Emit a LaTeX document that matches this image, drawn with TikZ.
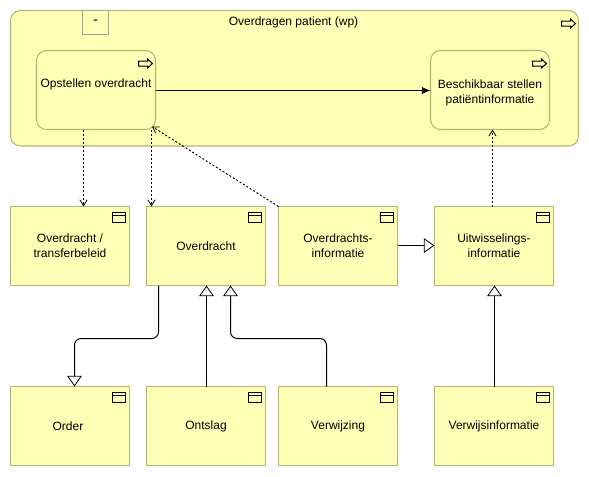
\documentclass[tikz,border=0pt]{standalone}
\usepackage{fontspec}
\setmainfont{Liberation Sans}
\usetikzlibrary{arrows.meta}
\definecolor{elfill}{HTML}{FFFFB5}
\definecolor{elline}{HTML}{B5B573}
\definecolor{tabline}{HTML}{A4A4A4}
\newcommand{\dn}{\rule{0pt}{10.5pt}}
\tikzset{
  x=0.75pt,y=-0.75pt,
  lbl/.style={font=\fontsize{9}{11.25}\selectfont,align=center,text=black,inner sep=0pt},
  element/.style={lbl,draw=elline,fill=elfill,line width=0.8pt,outer sep=0pt,minimum width=89.25pt,minimum height=59.25pt},
  objbox/.style={element},
  procbox/.style={element,rounded corners=7.5pt},
  group/.style={element,rounded corners=7.5pt,minimum width=426pt,minimum height=101.6pt},
  tabbox/.style={lbl,draw=tabline,fill=elfill,line width=0.75pt,outer sep=0pt,minimum width=19.5pt,minimum height=18pt},
  conn/.style={line width=0.75pt,black},
  flowline/.style={conn,-{Latex[length=6.5pt,width=5.5pt]}},
  depline/.style={conn,line width=0.7pt,dash pattern=on 1.5pt off 1.5pt,-{Straight Barb[length=4.5pt,width=5.5pt,line width=0.6pt]}},
  specline/.style={conn,rounded corners=5pt,-{Triangle[length=8pt,width=11pt,fill=white,line width=0.6pt]}},
  iconline/.style={black,line width=0.75pt,fill=none},
  objicon/.pic={\draw[iconline] (-17,6) rectangle (-4,16) (-17,9) -- (-4,9);},
  procicon/.pic={\draw[iconline] (-17,10.5) -- (-8,10.5) -- (-8,8.5) -- (-3,13) -- (-8,17.5) -- (-8,15.5) -- (-17,15.5) -- cycle;}
}
\begin{document}
\begin{tikzpicture}
\useasboundingbox (0,0) rectangle (589,476);
% groups and processes
\node[group] (wp) at (294.5,78.25) {};
\node[lbl] (wpt) at (293.5,22) {Overdragen patient (wp)};
\node[tabbox] (tab) at (95.5,22.5) {\fontsize{11}{12}\selectfont -};
\node[procbox] (p1) at (96,90) {\dn Opstellen overdracht\\ \strut};
\node[procbox] (p2) at (490,90) {\dn Beschikbaar stellen\\ patiëntinformatie};
% business objects
\node[objbox] (b1) at (70,246) {Overdracht /\\ transferbeleid};
\node[objbox] (b2) at (206,246) {Overdracht};
\node[objbox] (b3) at (338,246) {Overdrachts-\\ informatie};
\node[objbox] (b4) at (494,246) {Uitwisselings-\\ informatie};
\node[objbox] (c1) at (70,426) {Order\hspace{3pt}};
\node[objbox] (c2) at (206,426) {Ontslag};
\node[objbox] (c3) at (338,426) {Verwijzing};
\node[objbox] (c4) at (494,426) {Verwijsinformatie};
% icons
\pic at (wp.north east) {procicon};
\pic at (p1.north east) {procicon};
\pic at (p2.north east) {procicon};
\foreach \n in {b1,b2,b3,b4,c1,c2,c3,c4}{\pic at (\n.north east) {objicon};}
% routing guides
\coordinate (xa) at (83.5,0);
\coordinate (xb) at (151.5,0);
\coordinate (xc) at (158.5,0);
\coordinate (xd) at (74.5,0);
\coordinate (xe) at (230.5,0);
\coordinate (xf) at (326.5,0);
\coordinate (xg) at (492.5,0);
\coordinate (xh) at (206.5,0);
\coordinate (xi) at (494.5,0);
\coordinate (ym) at (0,338.5);
\coordinate (yf) at (0,90.5);
\coordinate (ys) at (0,245.5);
\coordinate (p1end) at (152,126.5);
% connectors
\draw[flowline] (p1.east |- yf) -- (p2.west |- yf);
\draw[depline] (p1.south -| xa) -- (b1.north -| xa);
\draw[depline] (p1.south -| xb) -- (b2.north -| xb);
\draw[depline] (b3.north west) -- (p1end);
\draw[depline] (b4.north -| xg) -- (p2.south -| xg);
\draw[specline] (b3.east |- ys) -- (b4.west |- ys);
\draw[specline] (c4.north -| xi) -- (b4.south -| xi);
\draw[specline] (c2.north -| xh) -- (b2.south -| xh);
\draw[specline] (b2.south -| xc) -- (xc |- ym) -- (xd |- ym) -- (c1.north -| xd);
\draw[specline] (c3.north -| xf) -- (xf |- ym) -- (xe |- ym) -- (b2.south -| xe);
\end{tikzpicture}
\end{document}
